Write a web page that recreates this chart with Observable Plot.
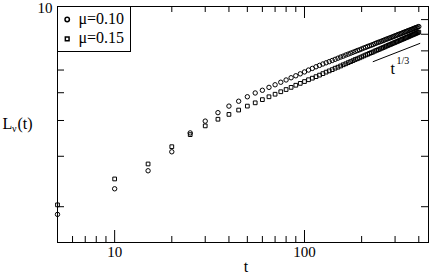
<!DOCTYPE html>
<html>
<head>
<meta charset="utf-8">
<script src="https://cdn.jsdelivr.net/npm/d3@7"></script>
<script src="https://cdn.jsdelivr.net/npm/@observablehq/plot@0.6"></script>
<style>
  html, body { margin: 0; padding: 0; background: white; }
  #chart svg, #chart svg text { font-family: "Liberation Serif", serif !important; }
</style>
</head>
<body>
<div id="chart"></div>
<script>
// time steps t = 5, 10, ..., 400
const tValues = [5,10,15,20,25,30,35,40,45,50,55,60,65,70,75,80,85,90,95,100,
  105,110,115,120,125,130,135,140,145,150,155,160,165,170,175,180,185,190,195,200,
  205,210,215,220,225,230,235,240,245,250,255,260,265,270,275,280,285,290,295,300,
  305,310,315,320,325,330,335,340,345,350,355,360,365,370,375,380,385,390,395,400];

// L_v(t) for mu = 0.10 (circles)
const lMu010 = [1.88,2.31,2.67,3.11,3.62,3.98,4.26,4.49,4.67,4.84,4.99,5.10,5.22,5.33,5.44,5.54,5.64,5.73,5.82,5.91,
  6.00,6.08,6.16,6.23,6.30,6.36,6.42,6.48,6.54,6.60,6.66,6.71,6.77,6.82,6.87,6.92,6.97,7.02,7.06,7.11,
  7.16,7.20,7.25,7.29,7.33,7.37,7.42,7.46,7.50,7.53,7.57,7.61,7.65,7.69,7.72,7.76,7.79,7.83,7.86,7.90,
  7.93,7.97,8.00,8.03,8.06,8.10,8.13,8.16,8.19,8.22,8.25,8.28,8.31,8.34,8.37,8.40,8.43,8.45,8.48,8.51];

// L_v(t) for mu = 0.15 (squares)
const lMu015 = [2.03,2.50,2.82,3.24,3.57,3.83,4.04,4.20,4.35,4.49,4.61,4.73,4.84,4.94,5.04,5.13,5.22,5.31,5.39,5.47,
  5.55,5.62,5.69,5.76,5.83,5.90,5.96,6.02,6.09,6.14,6.20,6.26,6.31,6.37,6.42,6.47,6.53,6.57,6.62,6.67,
  6.72,6.77,6.81,6.86,6.90,6.94,6.99,7.03,7.07,7.11,7.15,7.19,7.23,7.27,7.31,7.35,7.38,7.42,7.46,7.49,
  7.53,7.56,7.60,7.63,7.67,7.70,7.73,7.77,7.80,7.83,7.86,7.90,7.93,7.96,7.99,8.02,8.05,8.08,8.11,8.14];

// t^(1/3) guide line (endpoints)
const guideT = [230, 405];
const guideL = [6.42, 7.43];

// ticks
const xMajorTicks = [10, 100];
const xMinorTicks = [6,7,8,9,20,30,40,50,60,70,80,90,200,300,400];
const yMinorTicks = [2,3,4,5,6,7,8,9];
const yLabelTicks = [10];

const legendLabels = ["\u03bc=0.10", "\u03bc=0.15"];

const circles = tValues.map((t, i) => ({t, L: lMu010[i]}));
const squares = tValues.map((t, i) => ({t, L: lMu015[i]}));
const guide = guideT.map((t, i) => ({t, L: guideL[i]}));

const W = 436, H = 274;
const mL = 57, mR = 8, mT = 6, mB = 32;
const fw = W - mL - mR, fh = H - mT - mB;
const serif = "Liberation Serif";
const txt = (o) => ({lineAnchor: "middle", fontFamily: serif, fill: "black", text: d => String(d), ...o});

const chart = Plot.plot({
  width: W, height: H,
  marginLeft: mL, marginRight: mR, marginTop: mT, marginBottom: mB,
  x: {type: "log", domain: [5, 450], axis: null},
  y: {type: "log", domain: [1.5, 10], axis: null},
  style: {fontFamily: serif, fontSize: "15px", background: "white", color: "black"},
  marks: [
    // inward ticks: bottom, top
    Plot.ruleX(xMinorTicks, {x: d => d, insetTop: fh - 6, stroke: "black"}),
    Plot.ruleX(xMajorTicks, {x: d => d, insetTop: fh - 12, stroke: "black"}),
    Plot.ruleX(xMinorTicks, {x: d => d, insetBottom: fh - 6, stroke: "black"}),
    Plot.ruleX(xMajorTicks, {x: d => d, insetBottom: fh - 12, stroke: "black"}),
    // inward ticks: left, right
    Plot.ruleY(yMinorTicks, {y: d => d, insetRight: fw - 7, stroke: "black"}),
    Plot.ruleY(yMinorTicks, {y: d => d, insetLeft: fw - 7, stroke: "black"}),
    // tick labels
    Plot.text(xMajorTicks, txt({x: d => d, frameAnchor: "bottom", dy: 10, fontSize: 15})),
    Plot.text(yLabelTicks, txt({y: d => d, frameAnchor: "left", dx: -5, dy: 2, textAnchor: "end", fontSize: 15})),
    // axis labels
    Plot.text(["t"], txt({frameAnchor: "bottom", dy: 24, dx: 3, fontSize: 16})),
    Plot.text(["L"], txt({frameAnchor: "left", dx: -55, dy: -1, textAnchor: "start", fontSize: 16})),
    Plot.text(["\u03bd"], txt({frameAnchor: "left", dx: -45.5, dy: 4, textAnchor: "start", fontSize: 10})),
    Plot.text(["(t)"], txt({frameAnchor: "left", dx: -40, dy: -1, textAnchor: "start", fontSize: 16})),
    // data
    Plot.dot(circles, {x: "t", y: "L", symbol: "circle", r: 2.2, stroke: "black", fill: "none", strokeWidth: 1}),
    Plot.dot(squares, {x: "t", y: "L", symbol: "square", r: 2.1, stroke: "black", fill: "none", strokeWidth: 1}),
    // guide line and its label
    Plot.line(guide, {x: "t", y: "L", stroke: "black", strokeWidth: 1}),
    Plot.text(["t"], txt({frameAnchor: "top-right", dx: -38, dy: 62, textAnchor: "start", fontSize: 16})),
    Plot.text(["1/3"], txt({frameAnchor: "top-right", dx: -32, dy: 54, textAnchor: "start", fontSize: 10})),
    // legend box
    Plot.frame({stroke: "black", fill: "white", insetRight: 428 - 130, insetBottom: 242 - 51}),
    Plot.dot([legendLabels[0]], {frameAnchor: "top-left", dx: 9.7, dy: 13, symbol: "circle", r: 2.2, stroke: "black", fill: "none"}),
    Plot.dot([legendLabels[1]], {frameAnchor: "top-left", dx: 9.7, dy: 32.3, symbol: "square", r: 2.1, stroke: "black", fill: "none"}),
    Plot.text([legendLabels[0]], txt({frameAnchor: "top-left", dx: 21, dy: 12.2, textAnchor: "start", fontSize: 16})),
    Plot.text([legendLabels[1]], txt({frameAnchor: "top-left", dx: 21, dy: 31.2, textAnchor: "start", fontSize: 16})),
    // plot frame
    Plot.frame({stroke: "black"})
  ]
});
document.getElementById("chart").appendChild(chart);
</script>
</body>
</html>
